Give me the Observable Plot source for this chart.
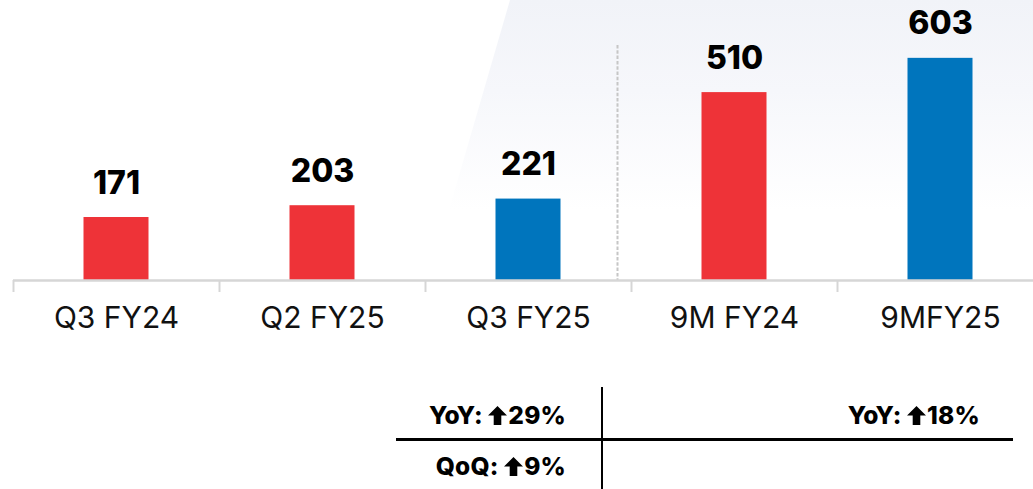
<!DOCTYPE html>
<html><head><meta charset="utf-8">
<script src="https://cdn.jsdelivr.net/npm/d3@7"></script>
<script src="https://cdn.jsdelivr.net/npm/@observablehq/plot@0.6"></script>
<style>
body{margin:0;background:#fff;font-family:Inter, "DejaVu Sans", sans-serif;}
#wrap{position:relative;width:1033px;height:489px;overflow:hidden;background:#fff;}
#bg{position:absolute;left:0;top:0;width:1033px;height:489px;
  background:linear-gradient(180deg,#f1f3f8 0px,#f6f7fb 90px,#ffffff 210px);
  clip-path:polygon(510px 0,1033px 0,1033px 489px,368px 489px);}
#chart{position:absolute;left:0;top:0;}
.vline{position:absolute;left:601px;top:387px;width:2px;height:102px;background:#000;}
.hline{position:absolute;left:396px;top:438px;width:617px;height:3px;background:#000;}
.cell{position:absolute;font-weight:800;font-size:24.5px;color:#000;white-space:nowrap;text-align:right;line-height:1;letter-spacing:0.2px;}
.cell svg{display:inline-block;vertical-align:-1px;margin:0 1px 0 0;}
</style>
</head><body>
<div id="wrap"><div id="bg"></div><div id="chart"></div>
<div class="vline"></div><div class="hline"></div>
<div id="tbl"></div>
</div>
<script>
const categories = ["Q3 FY24","Q2 FY25","Q3 FY25","9M FY24","9MFY25"];
const values = [171,203,221,510,603];
const periodType = ["prior","prior","current","prior","current"];
const growthNames = ["YoY:","QoQ:","YoY:"];
const growthValues = ["29%","9%","18%"];

const data = categories.map((c,i)=>({cat:c, value:values[i], group:periodType[i]}));

const chart = Plot.plot({
  width:1033, height:370, marginTop:0, marginBottom:90, marginLeft:13, marginRight:0,
  style:{background:"transparent", fontFamily:"Inter, sans-serif"},
  x:{domain:categories, range:[13,1043], padding:0, axis:null},
  y:{domain:[0,760], axis:null},
  color:{domain:["prior","current"], range:["#EE3338","#0075BD"]},
  marks:[
    Plot.ruleX(["9M FY24"],{dx:-117, insetTop:45, stroke:"#c6c6c6", strokeDasharray:"3.5,1.8", strokeWidth:2}),
    Plot.barY(data,{x:"cat", y:"value", fill:"group", insetLeft:70.5, insetRight:70.5}),
    Plot.ruleY([0],{stroke:"#d6d6d6", strokeWidth:2.5}),
    Plot.axisX({tickSize:12, dx:-103, tickFormat:()=>"", label:null, stroke:"#d6d6d6", strokeWidth:2}),
    Plot.axisX({tickSize:0, tickPadding:26, fontSize:30, fill:"#111", label:null}),
    Plot.text(data,{x:"cat", y:"value", text:d=>String(d.value), lineAnchor:"bottom", dy:-24, fontSize:32, fontWeight:800, fill:"#000"})
  ]
});
document.getElementById("chart").append(chart);

const arrowSvg = '<svg width="19" height="19" viewBox="0 0 20 20"><polygon points="10,0 20,10 14,10 14,20 6,20 6,10 0,10" fill="#000"/></svg>';
const tbl = document.getElementById("tbl");
const cells = [
  {right:1033-566, top:403},
  {right:1033-566, top:454},
  {right:1033-980, top:403}
];
growthNames.forEach((n,i)=>{
  const d = document.createElement("div");
  d.className = "cell";
  d.style.right = cells[i].right+"px";
  d.style.top = cells[i].top+"px";
  d.innerHTML = n + ' ' + arrowSvg + growthValues[i];
  tbl.append(d);
});
</script>
</body></html>
